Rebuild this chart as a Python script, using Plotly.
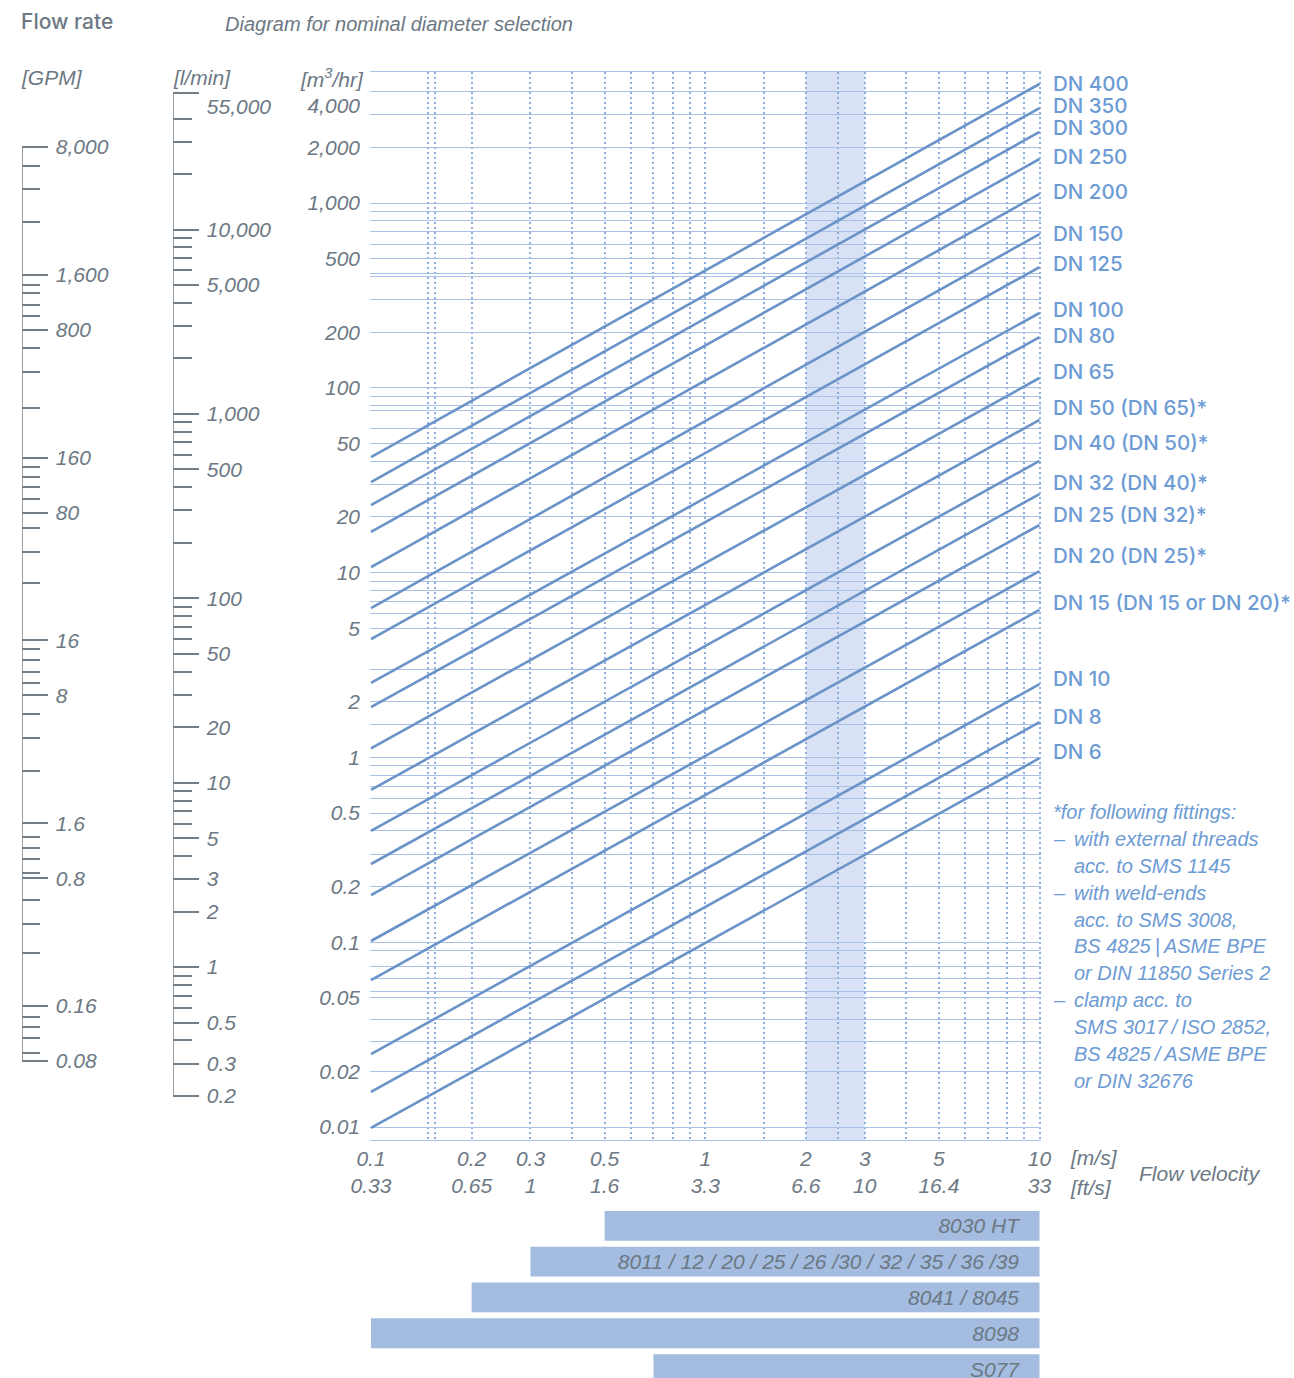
import numpy as np
import plotly.graph_objects as go

W, H = 1294, 1378

# ---------------- data ----------------
dn_labels = ["DN 400", "DN 350", "DN 300", "DN 250", "DN 200", "DN 150", "DN 125",
             "DN 100", "DN 80", "DN 65", "DN 50 (DN 65)*", "DN 40 (DN 50)*",
             "DN 32 (DN 40)*", "DN 25 (DN 32)*", "DN 20 (DN 25)*",
             "DN 15 (DN 15 or DN 20)*", "DN 10", "DN 8", "DN 6"]
v_line = [0.1, 10]                       # m/s, ends of each DN line
q_at_min_v = [42.2, 30.9, 23.2, 16.6, 10.7, 6.43, 4.37, 2.53, 1.87, 1.12,
              0.667, 0.400, 0.265, 0.180, 0.1015, 0.0624, 0.0248, 0.0155, 0.0099]
q_at_max_v = [4406, 3266, 2423, 1730, 1119, 679, 450, 254, 188, 113,
              67, 40.2, 26.6, 18.1, 10.2, 6.28, 2.49, 1.55, 0.99]
label_q = [4406, 3350, 2546, 1796, 1147, 688, 473, 264, 191, 123,
           78.7, 50.9, 30.9, 20.5, 12.3, 6.85, 2.66, 1.67, 1.07]

q_ticks = [0.01, 0.02, 0.05, 0.1, 0.2, 0.5, 1, 2, 5, 10, 20, 50, 100, 200, 500, 1000, 2000, 4000]
q_ticktext = ["0.01", "0.02", "0.05", "0.1", "0.2", "0.5", "1", "2", "5", "10", "20", "50",
              "100", "200", "500", "1,000", "2,000", "<br>4,000"]
q_extra_grid = [0.029, 0.038, 0.054, 0.064, 0.074, 0.09, 0.3, 0.4, 0.6, 0.7, 0.8, 0.9,
                1.5, 3, 6, 7, 8, 9, 30, 40, 60, 75, 80, 90, 300, 400, 415,
                600, 700, 800, 900, 3000]

v_ticks = [0.1, 0.2, 0.3, 0.5, 1, 2, 3, 5, 10]
v_ticktext = ["0.1", "0.2", "0.3", "0.5", "1", "2", "3", "5", "10"]
ft_ticktext = ["0.33", "0.65", "1", "1.6", "3.3", "6.6", "10", "16.4", "33"]
v_extra_grid = [0.148, 0.155, 0.4, 0.6, 0.7, 0.8, 0.9, 1.5, 2.5, 4, 6, 7, 8, 9]
band_v = [2, 3]

bar_names = ["8030 HT", "8011 / 12 / 20 / 25 / 26 /30 / 32 / 35 / 36 /39",
             "8041 / 8045", "8098", "S077"]
bar_start = [0.5, 0.3, 0.2, 0.1, 0.7]
bar_end = [10, 10, 10, 10, 10]

gpm_major = [8000, 1600, 800, 160, 80, 16, 8, 1.6, 0.8, 0.16, 0.08]
gpm_major_text = ["8,000", "1,600", "800", "160", "80", "16", "8", "1.6", "0.8", "0.16", "0.08"]
gpm_minor = [6300, 4700, 3100, 1400, 1270, 1090, 950, 640, 470, 300, 142, 125, 110, 95,
             66, 49, 33, 14.4, 12.5, 10.7, 9.4, 6.3, 4.7, 3.1, 1.35, 1.17, 1.02, 0.85,
             0.61, 0.45, 0.31, 0.139, 0.123, 0.107, 0.089]
lmin_major = [55000, 10000, 5000, 1000, 500, 100, 50, 20, 10, 5, 3, 2, 1, 0.5, 0.3, 0.2]
lmin_major_text = ["<br>55,000", "10,000", "5,000", "1,000", "500", "100", "50", "20", "10",
                   "5", "3", "2", "1", "0.5", "0.3", "0.2"]
lmin_minor = [40000, 30000, 20000, 9000, 8000, 7000, 6000, 4000, 3000, 2000,
              900, 800, 700, 600, 400, 300, 200, 90, 80, 70, 60, 40, 30,
              9, 8, 7, 6, 4, 0.9, 0.8, 0.7, 0.6, 0.4]

foot_lines = ["*for following fittings:", "–|with external threads", "|acc. to SMS 1145",
              "–|with weld-ends", "|acc. to SMS 3008,", "|BS 4825\u2009|\u2009ASME BPE",
              "|or DIN 11850 Series 2", "–|clamp acc. to", "|SMS 3017\u2009/\u2009ISO 2852,",
              "|BS 4825\u2009/\u2009ASME BPE", "|or DIN 32676"]

# ---------------- style ----------------
FONT = "Liberation Sans"
GREY = "#6c7883"
TICK = "#737f88"
BLUE_TXT = "#6d9bd4"
LINE = "#6a93c8"
GRID_H = "#a9c1e7"
GRID_V = "#8eaee0"
BAND = "#d9e2f4"
BAR = "#a3bcdf"


def fx(p):
    return p / W


def fy(p):
    return 1 - p / H


def ruler_frame(vals, top_px, bot_px, pad_px=16):
    """Domain/range for a log ruler whose extreme values sit at top_px/bot_px,
    padded so end labels are not dropped."""
    lo, hi = np.log10(min(vals)), np.log10(max(vals))
    s = (bot_px - top_px) / (hi - lo)
    dom = [fy(bot_px + pad_px), fy(top_px - pad_px)]
    rng = [lo - pad_px / s, hi + pad_px / s]
    return dom, rng


num_font = dict(family=FONT, size=21, color=GREY, style="italic")

fig = go.Figure()

# DN lines
for name, q0, q1 in zip(dn_labels, q_at_min_v, q_at_max_v):
    fig.add_trace(go.Scatter(x=v_line, y=[q0, q1], mode="lines", name=name,
                             line=dict(color=LINE, width=2.6), hoverinfo="skip",
                             showlegend=False, xaxis="x", yaxis="y"))

# invisible helper for the ft/s axis
fig.add_trace(go.Scatter(x=v_ticks, y=[q_ticks[0]] * len(v_ticks), mode="markers",
                         marker=dict(opacity=0), hoverinfo="skip", showlegend=False,
                         xaxis="x2", yaxis="y"))

# bars
fig.add_trace(go.Bar(y=list(range(len(bar_names))),
                     x=[e - s for s, e in zip(bar_start, bar_end)], base=bar_start,
                     orientation="h", width=0.833, marker=dict(color=BAR, line=dict(width=0)),
                     text=[n + "\u00a0" * 3 for n in bar_names], textposition="inside",
                     insidetextanchor="end",
                     textfont=dict(family=FONT, size=21, color=GREY, style="italic"),
                     hoverinfo="skip", showlegend=False, xaxis="x3", yaxis="y3"))

# ruler spines (vertical lines) drawn from the extreme ruler values
for vals, xa, ya in [(gpm_major, "x4", "y4"), (lmin_major, "x5", "y5")]:
    fig.add_trace(go.Scatter(x=[0, 0], y=[min(vals), max(vals)], mode="lines",
                             line=dict(color=TICK, width=1.5), cliponaxis=False,
                             hoverinfo="skip", showlegend=False, xaxis=xa, yaxis=ya))

xdom = [fx(370), fx(1041)]
xrange_ = [-1.003, 1.0045]

gpm_dom, gpm_rng = ruler_frame(gpm_major, 147, 1061)
lmin_dom, lmin_rng = ruler_frame(lmin_major, 93, 1096)

ruler_common = dict(type="log", side="left", showline=False,
                    ticks="inside", ticklabelposition="inside", tickwidth=1.5, tickcolor=TICK,
                    ticklen=26, showgrid=False, zeroline=False, tickfont=num_font,
                    ticklabelstandoff=9, automargin=False)

fig.update_layout(
    width=W, height=H, margin=dict(l=0, r=0, t=0, b=0, pad=0, autoexpand=False),
    paper_bgcolor="white", plot_bgcolor="white", showlegend=False,
    xaxis=dict(type="log", domain=xdom, range=xrange_, anchor="y", automargin=False,
               tickmode="array", tickvals=v_ticks, ticktext=v_ticktext, ticks="",
               showgrid=True, gridcolor=GRID_V, griddash="2px,3px", gridwidth=1.5,
               minor=dict(tickmode="array", tickvals=v_extra_grid, ticks="", showgrid=True,
                          gridcolor=GRID_V, griddash="2px,3px", gridwidth=1.5),
               showline=True, mirror=True, linecolor=GRID_H, linewidth=1, zeroline=False,
               tickfont=num_font, ticklabelstandoff=0),
    xaxis2=dict(type="log", overlaying="x", anchor="free", position=fy(1171), side="bottom",
                range=xrange_, tickmode="array", tickvals=v_ticks, ticktext=ft_ticktext,
                ticks="", showgrid=False, showline=False, zeroline=False, automargin=False,
                tickfont=num_font, ticklabelstandoff=0),
    yaxis=dict(type="log", domain=[fy(1140), fy(72)], range=[-2.0703, 3.7089], anchor="x",
               automargin=False,
               tickmode="array", tickvals=q_ticks, ticktext=q_ticktext, ticks="",
               showgrid=True, gridcolor=GRID_H, gridwidth=1,
               minor=dict(tickmode="array", tickvals=q_extra_grid, ticks="", showgrid=True,
                          gridcolor=GRID_H, gridwidth=1),
               showline=False, zeroline=False, tickfont=num_font, ticklabelstandoff=9),
    xaxis3=dict(type="log", domain=xdom, range=xrange_, anchor="y3", visible=False,
                automargin=False),
    yaxis3=dict(domain=[0, fy(1205)], range=[4.25, -0.583], anchor="x3", visible=False,
                automargin=False),
    xaxis4=dict(domain=[fx(22), fx(160)], range=[0, 1], anchor="y4", visible=False,
                automargin=False),
    yaxis4=dict(domain=gpm_dom, range=gpm_rng, anchor="x4",
                tickmode="array", tickvals=gpm_major, ticktext=gpm_major_text,
                minor=dict(tickmode="array", tickvals=gpm_minor, ticks="inside", ticklen=18,
                           tickwidth=1.5, tickcolor=TICK, showgrid=False),
                **ruler_common),
    xaxis5=dict(domain=[fx(173), fx(300)], range=[0, 1], anchor="y5", visible=False,
                automargin=False),
    yaxis5=dict(domain=lmin_dom, range=lmin_rng, anchor="x5",
                tickmode="array", tickvals=lmin_major, ticktext=lmin_major_text,
                minor=dict(tickmode="array", tickvals=lmin_minor, ticks="inside", ticklen=19,
                           tickwidth=1.5, tickcolor=TICK, showgrid=False),
                **ruler_common),
)

# recommended velocity band
fig.add_shape(type="rect", xref="x", yref="y domain", x0=band_v[0], x1=band_v[1], y0=0, y1=1,
              fillcolor=BAND, line=dict(width=0), layer="below")

ann = []
# DN labels
for name, q in zip(dn_labels, label_q):
    ann.append(dict(text=name, xref="paper", yref="y", x=fx(1051), y=np.log10(q),
                    xanchor="left", yanchor="middle",
                    font=dict(family="Inter", size=20.5, color=BLUE_TXT, weight=500)))

# footnote
foot_font = dict(family=FONT, size=20, color=BLUE_TXT, style="italic")
for i, line in enumerate(foot_lines):
    yy = fy(812 + 26.9 * i)
    if "|" in line and line.index("|") <= 1:
        dash, rest = line.split("|", 1)
        if dash:
            ann.append(dict(text=dash, x=fx(1051), y=yy, xanchor="left", yanchor="middle",
                            font=foot_font))
        ann.append(dict(text=rest, x=fx(1072), y=yy, xanchor="left", yanchor="middle",
                        font=foot_font))
    else:
        ann.append(dict(text=line, x=fx(1051), y=yy, xanchor="left", yanchor="middle",
                        font=foot_font))

# titles and units
ann += [
    dict(text="Flow rate", x=fx(19), y=fy(22), xanchor="left", yanchor="middle",
         font=dict(family="Inter", size=21, color=GREY, weight=500)),
    dict(text="Diagram for nominal diameter selection", x=fx(223), y=fy(24),
         xanchor="left", yanchor="middle",
         font=dict(family=FONT, size=20, color=GREY, style="italic")),
    dict(text="[GPM]", x=fx(19), y=fy(78), xanchor="left", yanchor="middle", font=num_font),
    dict(text="[l/min]", x=fx(171), y=fy(78), xanchor="left", yanchor="middle", font=num_font),
    dict(text="[m<sup>3</sup>/hr]", x=fx(366), y=fy(78), xanchor="right", yanchor="middle",
         font=num_font),
    dict(text="[m/s]", x=fx(1068), y=fy(1157), xanchor="left", yanchor="middle", font=num_font),
    dict(text="[ft/s]", x=fx(1068), y=fy(1187), xanchor="left", yanchor="middle", font=num_font),
    dict(text="Flow velocity", x=fx(1137), y=fy(1173), xanchor="left", yanchor="middle",
         font=num_font),
]
for a in ann:
    a.setdefault("xref", "paper")
    a.setdefault("yref", "paper")
    a["showarrow"] = False
fig.update_layout(annotations=ann)

fig.write_html("out.html", config={"displayModeBar": False},
               post_script="document.body.style.margin='0px';")
